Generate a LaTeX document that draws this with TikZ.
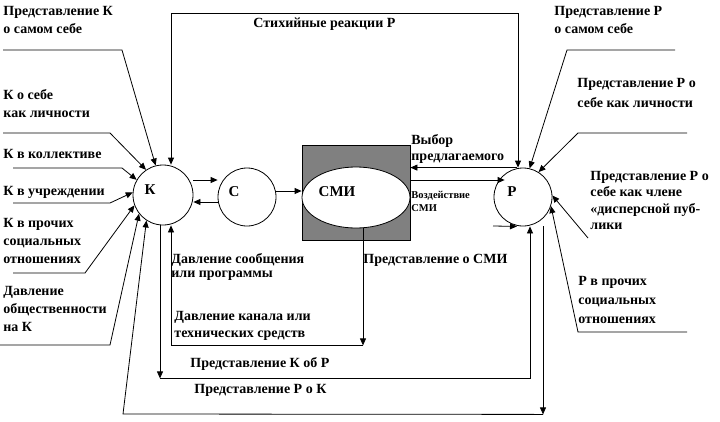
\documentclass[tikz,border=0pt]{standalone}
\usepackage{fontspec}
\setmainfont{Liberation Serif}
\usetikzlibrary{arrows.meta,shapes.geometric,calc}
\definecolor{smigray}{RGB}{128,128,128}
\begin{document}
\begin{tikzpicture}[x=1pt,y=-1pt,line width=0.8pt,
  arr/.style={-{Triangle[length=7pt,width=6pt]}},
  arrs/.style={{Triangle[length=7pt,width=6pt]}-{Triangle[length=7pt,width=6pt]}},
  txt/.style={font=\fontsize{14}{18}\selectfont\bfseries,align=left,anchor=base west,inner sep=0pt},
  circ/.style={draw,circle,minimum size=60pt,inner sep=0pt},
  big/.style={font=\fontsize{15}{18}\selectfont\bfseries,inner sep=0pt}]
\useasboundingbox (0,0) rectangle (720,421);
% nodes
\node[circ] (K) at (163,195) {};
\node[circ,minimum size=58pt] (C) at (247,197) {};
\node[draw,fill=smigray,minimum width=108pt,minimum height=95pt,inner sep=0pt] (M) at (356,192.5) {};
\node[draw,fill=white,ellipse,minimum width=108pt,minimum height=61pt,inner sep=0pt] (E) at (356,197.5) {};
\node[circ,minimum size=58pt] (P) at (523,197) {};
\node[big] (Kt) at (150,190) {К};
\node[big] (Ct) at (234,192) {С};
\node[big] (Et) at (337,192) {СМИ};
\node[big] (Pt) at (512,192) {Р};
% helper coordinates
\coordinate (y180) at (0,180);
\coordinate (y202) at (0,202);
\coordinate (y191) at (0,191);
\coordinate (top) at (0,13);
\coordinate (kn) at ([xshift=8pt]K.north);
\coordinate (pn) at ([xshift=-6pt]P.north);
\coordinate (pn2) at ([xshift=-5pt]P.north);
% central connectors
\draw[arr] (K.east |- y180) -- (C.west |- y180);
\draw[arr] (C.west |- y202) -- (K.east |- y202);
\draw[arr] (C.east |- y191) -- (M.west |- y191);
\draw[arr] (M.east |- y180) -- ($(P.west |- y180)+(11,0)$);
\draw[arr] (pn) -- (pn -| M.east);
\draw[arrs] (kn) -- (kn |- top) -- (pn2 |- top) -- (pn2);
% left inputs
\coordinate (L1) at (3,50);
\coordinate (L2) at (3,133);
\coordinate (L3) at (13,168);
\coordinate (L4) at (13,203);
\coordinate (L5) at (13,273);
\coordinate (L6) at (0,345);
\draw[arr] (L1) -- ++(119,0) -- (K.104);
\draw[arr] (L2) -- ++(107,0) -- (K.124);
\draw[arr] (L3) -- ++(109,0) -- (K.150);
\draw[arr] (L4) -- ++(97,0) -- (K.175);
\draw[arr] (L5) -- ++(72,0) -- (K.200);
\draw[arr] (L6) -- ++(110,0) -- (K.218);
% right inputs
\coordinate (R1) at (675,50);
\coordinate (R2) at (687,133);
\coordinate (R3) at (588,238);
\coordinate (R4) at (687,332);
\coordinate (R5) at (493,226);
\draw[arr] (R1) -- ++(-108,0) -- (P.77);
\draw[arr] (R2) -- ++(-109,0) -- (P.58);
\draw[arr] (R3) -- (P.3);
\draw[arr] (R4) -- ++(-109,0) -- (P.-18);
\draw[arr] (R5) -- ([xshift=-6pt]P.south);
% bottom loops
\coordinate (b1) at ($(E.south)+(7,117)$);
\draw[arr] ([xshift=7pt]E.south) -- (b1);
\draw[arr] (b1) -| ([xshift=8pt]K.south);
\coordinate (b2) at ($(K.south)+(-3,153)$);
\draw[arr] ([xshift=-3pt]K.south) -- (b2);
\draw[arr] (b2) -| ([xshift=7pt]P.south);
\coordinate (b3) at ($(P.south)+(20,188)$);
\coordinate (b4) at (123,414);
\draw[arr] ([xshift=20pt]P.south) -- (b3);
\draw[arr] (b3) -- (b4) -- (K.237);
% labels (anchor = baseline of the last line)
\node[txt] (t1) at (3,33) {Представление К\\о самом себе};
\node[txt] (t2) at (3,117) {К о себе\\как личности};
\node[txt] (t3) at (3,158) {К в коллективе};
\node[txt] (t4) at (3,195) {К в учреждении};
\node[txt] (t5) at (3,263) {К в прочих\\социальных\\отношениях};
\node[txt] (t6) at (3,331) {Давление\\общественности\\на К};
\node[txt] (t7) at (253,27) {Стихийные реакции Р};
\node[txt,font=\fontsize{14}{16}\selectfont\bfseries] (t8) at (411,160) {Выбор\\предлагаемого};
\node[txt,font=\fontsize{10.5}{13}\selectfont\bfseries] (t9) at (411,211) {Воздействие\\СМИ};
\node[txt,font=\fontsize{14}{14}\selectfont\bfseries] (t10) at (171,277) {Давление сообщения\\или программы};
\node[txt,font=\fontsize{14}{17}\selectfont\bfseries] (t11) at (174,337) {Давление канала или\\технических средств};
\node[txt] (t12) at (190,367) {Представление К об Р};
\node[txt] (t13) at (194,393) {Представление Р о К};
\node[txt] (t14) at (363,263) {Представление о СМИ};
\node[txt] (t15) at (554,33) {Представление Р\\о самом себе};
\node[txt,font=\fontsize{14}{20}\selectfont\bfseries] (t16) at (577,107) {Представление Р о\\себе как личности};
\node[txt,font=\fontsize{14}{16.5}\selectfont\bfseries] (t17) at (590,229.5) {Представление Р о\\себе как члене\\«дисперсной пуб-\\лики};
\node[txt,font=\fontsize{14}{19}\selectfont\bfseries] (t18) at (578,323) {Р в прочих\\социальных\\отношениях};
\end{tikzpicture}
\end{document}
